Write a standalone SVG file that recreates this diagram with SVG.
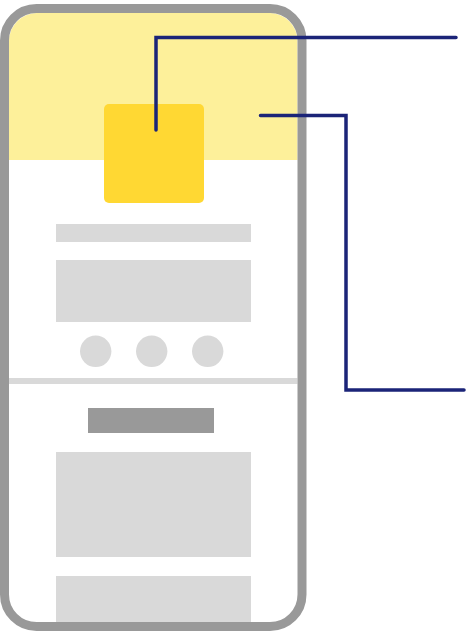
<svg xmlns="http://www.w3.org/2000/svg" width="468" height="632" viewBox="0 0 468 632">
<defs>
<style>
.blk{fill:#d9d9d9}
.conn{fill:none;stroke:#1b2478;stroke-width:3.5;stroke-linecap:round;stroke-linejoin:miter}
</style>
<clipPath id="screen"><rect x="9" y="13" width="288.5" height="609" rx="28"/></clipPath>
</defs>
<g id="phone">
<rect x="4.5" y="8.5" width="297.5" height="618" rx="32" fill="#ffffff"/>
<g clip-path="url(#screen)">
<rect id="header" x="9" y="13" width="289" height="147" fill="#fdf09a"/>
<rect id="divider" x="9" y="378" width="289" height="6" class="blk"/>
<rect id="block-bottom" x="56" y="576" width="195" height="60" class="blk"/>
</g>
<rect x="4.5" y="8.5" width="297.5" height="618" rx="32" fill="none" stroke="#999999" stroke-width="9"/>
</g>
<g id="logo"><rect x="104" y="104" width="100" height="99" rx="5" fill="#ffd833"/></g>
<g id="bar1"><rect x="56" y="224" width="195" height="18" class="blk"/></g>
<g id="block1"><rect x="56" y="260" width="195" height="62" class="blk"/></g>
<g id="dots">
<circle cx="95.7" cy="351.3" r="15.7" class="blk"/>
<circle cx="151.7" cy="351.3" r="15.7" class="blk"/>
<circle cx="207.7" cy="351.3" r="15.7" class="blk"/>
</g>
<g id="button"><rect x="88" y="408" width="126" height="25" fill="#999999"/></g>
<g id="block2"><rect x="56" y="452" width="195" height="105" class="blk"/></g>
<g id="connectors">
<polyline class="conn" points="156,130 156,37.5 456,37.5"/>
<polyline class="conn" points="260.5,115.5 346,115.5 346,390 464,390"/>
</g>
</svg>
